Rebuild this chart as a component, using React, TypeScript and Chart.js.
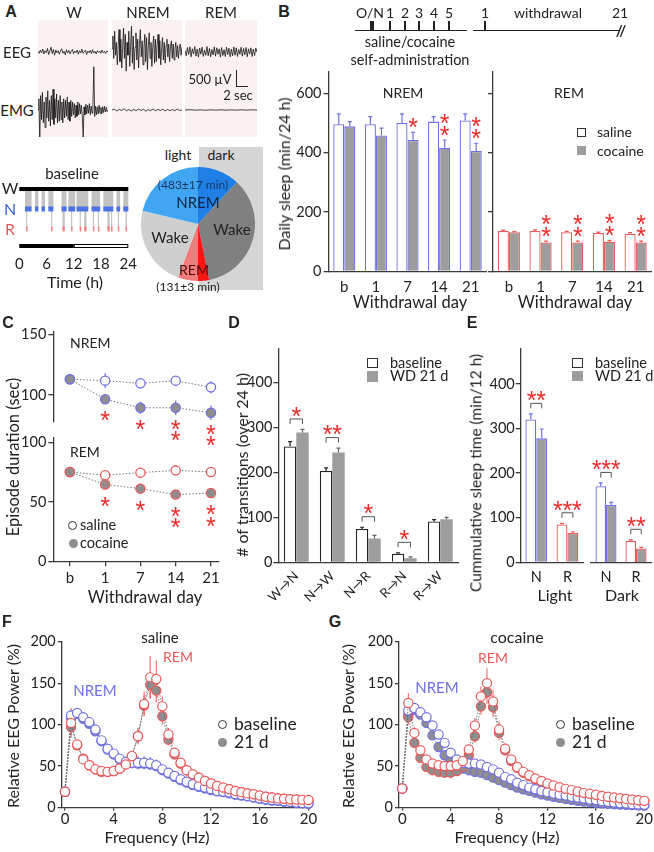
import React, { useEffect, useRef } from 'react';
import { Chart, registerables } from 'chart.js';

Chart.register(...registerables);
Chart.defaults.font.family = 'Lato, "Open Sans", sans-serif';
Chart.defaults.font.size = 14;
Chart.defaults.color = '#222';

// ================= DATA =================
// Panel A – example traces (µV)
const eegW = [20, -40, 60, -30, 90, -60, 40, -20, 110, -80, 30, 150, -50, 80, -100, 60, -20, 40, -70, 30, 100, -40, 20, -90, 70, -30, 50, -60, 20, 80, -50, 30, -20, 60, -70, 40, -30, 90, -40, 10, 60, -80, 30, -20, 50, -50, 70, -30, 20, -60, 40, -10, 30, -40, 60, -20, 20, -50, 30, 0];
const eegNrem = [100, 500, -200, 650, -100, 300, -400, 200, 700, -300, 400, -500, 100, 750, -200, 550, -600, 300, -100, 650, -450, 200, 800, -350, 500, -550, 150, 600, -250, 400, -500, 250, 700, -150, 350, -400, 100, 550, -300, 450, -550, 200, 600, -200, 300, -450, 150, 500, -350, 400, -300, 250, 550, -200, 350, -400, 100, 450, -250, 300, -350, 200, 400, -150, 250, -300, 150, 350, -200, 250, -250, 100, 300, -150, 200, -200, 100, 250, -100, 150];
const eegRem = [50, -120, 140, -80, 160, -150, 100, -60, 170, -130, 90, -160, 120, -70, 150, -140, 60, -100, 170, -120, 110, -150, 80, -90, 160, -130, 130, -70, 100, -160, 140, -110, 70, -140, 150, -80, 120, -150, 90, -120, 160, -100, 130, -140, 80, -70, 150, -130, 110, -90, 140, -150, 100, -60, 130, -140, 90, -110, 120, 0];
const emgW = [0, 350, -900, 450, -300, 550, -400, 250, -550, 400, -250, 600, -350, 300, -500, 450, -300, 650, -450, 350, -250, 500, -400, 300, -350, 450, -300, 250, -400, 350, -250, 300, -200, 400, -300, 250, -350, 300, -200, 250, -150, 200, -250, 150, -200, 250, -150, 200, -120, 150, -200, -850, 100, -150, 180, -120, 150, -100, 200, -150, 120, -100, 180, 1350, -200, 120, -150, 100, -120, 150, -100, 80, -120, 100, -80, 120, -60, 80, -50, 0];
const emgNrem = [0, 25, -30, 20, -15, 35, -25, 15, -30, 20, -20, 30, -15, 25, -35, 15, -20, 30, -25, 20, -15, 25, -30, 20, -20, 15, -25, 30, -15, 0];
const emgRem = [0, 8, -6, 5, -8, 6, -5, 7, -6, 4, -5, 6, -4, 5, 0];

// Hypnogram episodes (h)
const hypNrem: [number, number][] = [[1.25, 2.7], [3.45, 4.2], [4.9, 5.65], [6.4, 7.5], [9.3, 10.4], [10.8, 12.3], [12.6, 15.2], [15.9, 17.8], [18.5, 20.7], [21.4, 22.2], [22.9, 24]];
const hypRem: [number, number][] = [[1.5, 1.75], [7.0, 7.25], [9.5, 10.0], [11.4, 11.65], [13.3, 13.55], [14.3, 14.8], [16.2, 16.45], [17.3, 17.55], [19.4, 19.9], [20.2, 20.45], [21.7, 21.95], [23.4, 23.7]];
const lightDark: [number, number, boolean][] = [[0, 12, true], [12, 24, false]];

// Pie (min per 24 h), clockwise from top
const pieLabels = ['NREM dark', 'Wake dark', 'REM dark', 'REM light', 'Wake light', 'NREM light'];
const pieMinutes = [172, 503, 45, 82, 332, 306];
const pieColors = ['#1f7fe6', '#808080', '#ff1414', '#f27c7c', '#cfcfcf', '#40a6f4'];

// Panel B – daily sleep (min/24 h)
const bLabels = ['b', '1', '7', '14', '21'];
const bNremSal = [496, 496, 500, 505, 509];
const bNremSalErr = [35, 26, 31, 17, 22];
const bNremCoc = [489, 458, 443, 417, 406];
const bNremCocErr = [16, 25, 26, 26, 26];
const bRemSal = [136.5, 136.5, 132, 129.5, 127];
const bRemSalErr = [3, 4, 3, 3, 4];
const bRemCoc = [132, 98, 98, 100, 98];
const bRemCocErr = [2, 4, 4, 4, 4];
const bStarsNrem = [0, 0, 1, 2, 2];
const bStarsRem = [0, 2, 2, 2, 2];

// Panel C – episode duration (sec)
const cLabels = ['b', '1', '7', '14', '21'];
const cNremSal = [113, 111.8, 109.6, 111.8, 106.3];
const cNremSalErr = [4, 6, 3, 3, 5];
const cNremCoc = [113, 96.5, 89.5, 89.5, 85.4];
const cNremCocErr = [4, 4, 5, 6, 6];
const cRemSal = [75.1, 72.4, 74.6, 76.5, 75.1];
const cRemSalErr = [2, 3, 2, 2, 2];
const cRemCoc = [75.1, 64.6, 61.2, 56.2, 57.5];
const cRemCocErr = [2, 3, 3, 3, 3];
const cStarsNrem = [0, 1, 1, 2, 2];
const cStarsRem = [0, 1, 1, 2, 2];

// Panel D – transitions
const dLabels = ['W→N', 'N→W', 'N→R', 'R→N', 'R→W'];
const dBase = [257.5, 203, 74, 19, 91];
const dBaseErr = [11, 7, 4, 2, 4];
const dWD = [288.5, 244, 53, 9, 96];
const dWDErr = [7, 10, 7, 3, 4];
const dSig = ['*', '**', '*', '*', ''];

// Panel E – cumulative sleep (min/12 h)
const eLabels = ['N', 'R'];
const eLightBase = [320.5, 85];
const eLightBaseErr = [12.5, 2.5];
const eLightWD = [278, 66];
const eLightWDErr = [21, 2.5];
const eDarkBase = [170.5, 48];
const eDarkBaseErr = [7.5, 2.5];
const eDarkWD = [128.5, 31];
const eDarkWDErr = [6, 2.5];
const eSigLight = ['**', '***'];
const eSigDark = ['***', '**'];

// Panels F, G – relative EEG power (%)
const freq = [0, 0.5, 1, 1.5, 2, 2.5, 3, 3.5, 4, 4.5, 5, 5.5, 6, 6.5, 7, 7.5, 8, 8.5, 9, 9.5, 10, 10.5, 11, 11.5, 12, 12.5, 13, 13.5, 14, 14.5, 15, 15.5, 16, 16.5, 17, 17.5, 18, 18.5, 19, 19.5, 20];
const fNremBase = [19, 111, 114, 109, 103, 94, 81, 71, 65, 59, 55, 54, 54, 54, 53, 51, 46, 42, 38, 34, 31, 28, 26, 24, 22, 20, 19, 18, 16, 15, 14, 12.5, 11, 10, 9, 8.5, 7.5, 7, 6, 5.5, 5];
const fNremBaseErr = [3, 6, 5, 5, 5, 5, 5, 4, 4, 4, 6, 7, 8, 8, 8, 7, 5, 4, 3, 3, 2, 2, 2, 2, 2, 2, 1, 1, 1, 1, 1, 1, 1, 1, 1, 1, 1, 1, 1, 1, 1];
const fNrem21 = [19, 108, 113, 107, 101, 92, 80, 70, 64, 58, 55, 54, 53, 53, 52, 50, 45, 41, 37, 33, 30, 27, 25, 23, 21, 19.5, 18.5, 17, 15.5, 14.5, 13.5, 12, 10.5, 9.5, 8.5, 8, 7, 6.5, 5.5, 5, 4.5];
const fNrem21Err = [3, 6, 5, 5, 5, 5, 4, 4, 4, 4, 5, 6, 6, 6, 6, 5, 4, 3, 3, 2, 2, 2, 2, 2, 2, 1, 1, 1, 1, 1, 1, 1, 1, 1, 1, 1, 1, 1, 1, 1, 1];
const fRemBase = [19, 102, 76, 58, 51, 46, 44, 43, 44, 47, 52, 62, 86, 125, 157, 155, 122, 88, 66, 54, 45, 40, 36, 32, 29, 26, 24, 22, 20, 18.5, 17, 16, 14.5, 13, 12, 11, 10.5, 10, 9.6, 9.2, 9];
const fRemBaseErr = [3, 18, 6, 4, 3, 3, 3, 3, 3, 3, 4, 6, 10, 15, 26, 22, 12, 8, 5, 4, 3, 3, 2, 2, 2, 2, 2, 2, 2, 1, 1, 1, 1, 1, 1, 1, 1, 1, 1, 1, 1];
const fRem21 = [19, 97, 75, 59, 51, 46, 43, 43, 44, 47, 52, 62, 86, 123, 148, 141, 110, 82, 64, 53, 45, 40, 36, 32, 29, 26, 24, 22, 20, 18.5, 17, 15.5, 14, 13, 12, 11, 10.5, 10, 9.5, 9, 8.5];
const fRem21Err = [3, 10, 5, 4, 3, 3, 3, 3, 3, 3, 4, 5, 8, 12, 16, 14, 10, 7, 5, 4, 3, 3, 2, 2, 2, 2, 2, 2, 1, 1, 1, 1, 1, 1, 1, 1, 1, 1, 1, 1, 1];
const gNremBase = [23, 117, 120, 115, 109, 99, 88, 78, 66, 58, 54, 53, 53, 52, 49, 46, 42, 37, 34, 30, 27, 24, 22, 20, 18.5, 17, 15.5, 14.5, 13, 12, 11, 9.6, 9, 7.6, 7, 6, 5, 4.8, 4, 3.6, 3.2];
const gNremBaseErr = [3, 6, 6, 5, 5, 4, 4, 4, 3, 3, 3, 3, 3, 3, 3, 3, 2, 2, 2, 2, 2, 2, 2, 1, 1, 1, 1, 1, 1, 1, 1, 1, 1, 1, 1, 1, 1, 1, 1, 1, 1];
const gNrem21 = [23, 112, 118, 112, 102, 87, 73, 63, 57, 51, 47, 45, 43, 42, 39, 36, 33, 30, 27, 24, 22, 20, 18, 16, 14.5, 13, 11.6, 10.4, 9.2, 8, 7.2, 6.4, 5.6, 5, 4.5, 4, 3.5, 3.2, 2.9, 2.6, 2.4];
const gNrem21Err = [3, 6, 6, 5, 5, 4, 4, 4, 3, 3, 3, 3, 3, 3, 3, 3, 2, 2, 2, 2, 2, 2, 2, 1, 1, 1, 1, 1, 1, 1, 1, 1, 1, 1, 1, 1, 1, 1, 1, 1, 1];
const gRemBase = [23, 126, 90, 69, 58, 53, 51, 50, 50, 51, 56, 70, 99, 134, 150, 128, 94, 71, 58, 49, 43, 39, 35, 32, 29, 26.5, 24.5, 22.5, 21, 19.3, 17.7, 16.5, 15.3, 14, 12.9, 12, 11.2, 10.4, 9.6, 8.8, 8];
const gRemBaseErr = [3, 12, 7, 5, 4, 3, 3, 3, 3, 3, 4, 6, 9, 12, 18, 14, 10, 7, 5, 4, 3, 3, 2, 2, 2, 2, 2, 2, 1, 1, 1, 1, 1, 1, 1, 1, 1, 1, 1, 1, 1];
const gRem21 = [23, 109, 78, 60, 49, 45, 43, 42, 42, 44, 49, 63, 86, 122, 139, 121, 90, 69, 56, 48, 42, 38, 34, 31, 28, 25.5, 23.5, 21.5, 20, 18.5, 17, 15.8, 14.6, 13.4, 12.4, 11.5, 10.7, 10, 9.2, 8.5, 7.8];
const gRem21Err = [3, 9, 6, 4, 3, 3, 3, 3, 3, 3, 4, 5, 8, 10, 14, 12, 9, 6, 4, 3, 3, 2, 2, 2, 2, 2, 2, 1, 1, 1, 1, 1, 1, 1, 1, 1, 1, 1, 1, 1, 1];

// ================= STYLE =================
const FF = 'Lato, "Open Sans", sans-serif';
const ARIAL = '"Liberation Sans", Arial, sans-serif';
const AXC = '#3a3a3a';
const BLUE = '#7070e6';
const RED = '#ec5858';
const GREY = '#9d9d9d';
const PTGREY = '#8e8e8e';
const STAR = '#ee2b2b';
const PINK = '#fcf1f1';
const STAR_SIZE = 25;
const TICK = 14.5;

// ================= HELPERS =================
function fix(size: number) {
  return (s: any) => {
    if (s.isHorizontal()) s.height = size;
    else s.width = size;
    s.paddingLeft = 0;
    s.paddingRight = 0;
    s.paddingTop = 0;
    s.paddingBottom = 0;
  };
}

function base(pad: any) {
  return {
    responsive: false,
    animation: false,
    events: [] as string[],
    layout: { padding: { left: 0, right: 0, top: 0, bottom: 0, ...pad } },
    plugins: { legend: { display: false }, tooltip: { enabled: false } },
  };
}

function yAxis(min: number, max: number, step: number, width: number, labels = true, tick = 5, pad = 2) {
  return {
    type: 'linear',
    position: 'left',
    min,
    max,
    afterFit: fix(width),
    border: { display: true, color: AXC, width: 1.3 },
    grid: { display: true, drawOnChartArea: false, drawTicks: true, tickLength: tick, color: AXC, lineWidth: 1.3 },
    ticks: { display: labels, stepSize: step, includeBounds: false, padding: pad, color: '#222', font: { size: TICK } },
  };
}

function xCat(height: number, padding: number, rot = 0, size = TICK) {
  return {
    type: 'category',
    position: 'bottom',
    afterFit: fix(height),
    border: { display: true, color: AXC, width: 1.3 },
    grid: { display: false, drawTicks: false },
    ticks: { padding, autoSkip: false, minRotation: rot, maxRotation: rot, color: '#222', font: { size } },
  };
}

function drawStar(ctx: any, x: number, yc: number) {
  ctx.fillText('*', x, yc + STAR_SIZE * 0.55);
}

function drawErr(chart: any, when: string) {
  const ctx = chart.ctx;
  chart.data.datasets.forEach((ds: any, di: number) => {
    if (!ds.err || (ds.errWhen || 'after') !== when) return;
    const meta = chart.getDatasetMeta(di);
    const ys = chart.scales[meta.yAxisID];
    meta.data.forEach((el: any, i: number) => {
      const raw = ds.data[i];
      const val = typeof raw === 'number' ? raw : raw && raw.y;
      const e = ds.err[i];
      if (val == null || !e) return;
      const x = el.x;
      const yTop = ys.getPixelForValue(val + e);
      const yBot = ds.errMode === 'both' ? ys.getPixelForValue(val - e) : ys.getPixelForValue(val);
      const col = Array.isArray(ds.errColor) ? ds.errColor[i] : ds.errColor || '#333';
      ctx.save();
      ctx.strokeStyle = col;
      ctx.lineWidth = ds.errWidth || 1.2;
      ctx.beginPath();
      ctx.moveTo(x, yBot);
      ctx.lineTo(x, yTop);
      if (ds.errCap) {
        ctx.moveTo(x - ds.errCap, yTop);
        ctx.lineTo(x + ds.errCap, yTop);
      }
      ctx.stroke();
      ctx.restore();
    });
  });
}

const errBars = {
  id: 'errBars',
  beforeDatasetsDraw(chart: any) {
    drawErr(chart, 'before');
  },
  afterDatasetsDraw(chart: any) {
    drawErr(chart, 'after');
  },
};

function starPlugin(dsIndex: number, counts: number[], dir: 'up' | 'down', gap: number, step: number, useErr: boolean) {
  return {
    id: 'sigStars',
    afterDatasetsDraw(chart: any) {
      const ctx = chart.ctx;
      const ds = chart.data.datasets[dsIndex];
      const meta = chart.getDatasetMeta(dsIndex);
      const ys = chart.scales[meta.yAxisID];
      ctx.save();
      ctx.font = `${STAR_SIZE}px ${ARIAL}`;
      ctx.fillStyle = STAR;
      ctx.textAlign = 'center';
      ctx.textBaseline = 'alphabetic';
      counts.forEach((n, i) => {
        if (!n) return;
        const raw = ds.data[i];
        const val = typeof raw === 'number' ? raw : raw.y;
        const e = useErr && ds.err ? ds.err[i] : 0;
        const x = meta.data[i].x;
        const b0 = dir === 'up' ? ys.getPixelForValue(val + e) - gap : ys.getPixelForValue(val) + gap;
        for (let k = 0; k < n; k++) drawStar(ctx, x, dir === 'up' ? b0 - k * step : b0 + k * step);
      });
      ctx.restore();
    },
  };
}

function bracketPlugin(sig: string[]) {
  return {
    id: 'brackets',
    afterDatasetsDraw(chart: any) {
      const ctx = chart.ctx;
      const ys = chart.scales.y;
      const d0 = chart.data.datasets[0];
      const d1 = chart.data.datasets[1];
      const m0 = chart.getDatasetMeta(0);
      const m1 = chart.getDatasetMeta(1);
      ctx.save();
      sig.forEach((s, i) => {
        if (!s) return;
        const t0 = ys.getPixelForValue(d0.data[i] + (d0.err ? d0.err[i] : 0));
        const t1 = ys.getPixelForValue(d1.data[i] + (d1.err ? d1.err[i] : 0));
        const yb = Math.min(t0, t1) - 10.5;
        const x0 = m0.data[i].x;
        const x1 = m1.data[i].x;
        ctx.strokeStyle = '#555';
        ctx.lineWidth = 1;
        ctx.beginPath();
        ctx.moveTo(x0, yb + 5);
        ctx.lineTo(x0, yb);
        ctx.lineTo(x1, yb);
        ctx.lineTo(x1, yb + 5);
        ctx.stroke();
        ctx.font = `${STAR_SIZE}px ${ARIAL}`;
        ctx.fillStyle = STAR;
        ctx.textAlign = 'center';
        ctx.textBaseline = 'alphabetic';
        const n = s.length;
        for (let k = 0; k < n; k++) drawStar(ctx, (x0 + x1) / 2 + (k - (n - 1) / 2) * 9.5, yb - 8);
      });
      ctx.restore();
    },
  };
}

const hypnoPlugin = {
  id: 'hypno',
  beforeDatasetsDraw(chart: any) {
    const ctx = chart.ctx;
    const xs = chart.scales.x;
    const ys = chart.scales.y;
    const X = (v: number) => xs.getPixelForValue(v);
    const Y = (v: number) => ys.getPixelForValue(v);
    ctx.save();
    ctx.fillStyle = '#c2c2c2';
    hypNrem.forEach(([s, e]) => ctx.fillRect(X(s), Y(2), X(e) - X(s), Y(1) - Y(2)));
    hypRem.forEach(([s, e]) => ctx.fillRect(X(s), Y(2), X(e) - X(s), Y(0) - Y(2)));
    ctx.fillStyle = '#4a72e6';
    hypNrem.forEach(([s, e]) => ctx.fillRect(X(s), Y(1) - 2.5, X(e) - X(s), 5));
    ctx.fillStyle = '#f28080';
    hypRem.forEach(([s, e]) => ctx.fillRect(X(s), Y(0) - 2.5, Math.max(X(e) - X(s), 1.5), 5));
    ctx.fillStyle = '#000';
    ctx.fillRect(X(xs.min), Y(2) - 2, X(xs.max) - X(xs.min), 4);
    const yb = chart.chartArea.bottom + 11;
    lightDark.forEach(([s, e, dark]) => {
      if (dark) {
        ctx.fillStyle = '#000';
        ctx.fillRect(X(s), yb, X(e) - X(s), 4);
      } else {
        ctx.strokeStyle = '#000';
        ctx.lineWidth = 1;
        ctx.strokeRect(X(s) + 0.5, yb + 0.5, X(e) - X(s) - 1, 3);
      }
    });
    ctx.restore();
  },
};

// ================= CHART CONFIGS =================
function traceCfg(eeg: number[], emg: number[]) {
  const line = { borderColor: '#151515', borderWidth: 0.8, pointRadius: 0, clip: false as any };
  return {
    type: 'line',
    data: {
      datasets: [
        { ...line, data: eeg.map((v, i) => ({ x: i, y: v })), xAxisID: 'xE', yAxisID: 'yE' },
        { ...line, data: emg.map((v, i) => ({ x: i, y: v })), xAxisID: 'xM', yAxisID: 'yM' },
      ],
    },
    options: {
      ...base({}),
      scales: {
        xE: { type: 'linear', axis: 'x', display: false, min: 0, max: eeg.length - 1 },
        xM: { type: 'linear', axis: 'x', display: false, min: 0, max: emg.length - 1 },
        yE: { type: 'linear', axis: 'y', display: false, min: -2656, max: 1000 },
        yM: { type: 'linear', axis: 'y', display: false, min: -844, max: 2812 },
      },
    },
  };
}

function hypnoCfg() {
  return {
    type: 'scatter',
    data: { datasets: [] as any[] },
    options: {
      ...base({ left: 19.3, right: 11.7, top: 10 }),
      scales: {
        x: {
          type: 'linear', min: 0, max: 24, afterFit: fix(57),
          border: { display: false }, grid: { display: false, drawTicks: false },
          ticks: { stepSize: 6, padding: 22.6, color: '#222', font: { size: 15 } },
        },
        y: { type: 'linear', display: false, min: -0.2, max: 2.2 },
      },
    },
    plugins: [hypnoPlugin],
  };
}

function pieCfg() {
  return {
    type: 'pie',
    data: { labels: pieLabels, datasets: [{ data: pieMinutes, backgroundColor: pieColors, borderWidth: 0, hoverOffset: 0 }] },
    options: { ...base({}) },
  };
}

function barDs(data: number[], err: number[], fill: string, border: any, bw = 1.3, errColor: any = border) {
  return {
    data, err, backgroundColor: fill, borderColor: border, borderWidth: bw,
    errColor, errCap: 2, barPercentage: 1, categoryPercentage: 0.7,
  };
}

function bCfg(sal: number[], salErr: number[], coc: number[], cocErr: number[], col: string, stars: number[], nrem: boolean) {
  return {
    type: 'bar',
    data: { labels: bLabels, datasets: [barDs(sal, salErr, '#fff', col), barDs(coc, cocErr, GREY, col)] },
    options: {
      ...base(nrem ? { top: 12, right: 3.5 } : { top: 12, right: 2.5 }),
      scales: {
        x: xCat(40.5, 7.1, 0, 15),
        y: yAxis(0, 672, 200, nrem ? 58.5 : 13, nrem),
      },
    },
    plugins: [errBars, starPlugin(1, stars, 'up', 10, 12, true)],
  };
}

function cPt(vals: number[], err: number[], col: string, fill: string) {
  return {
    data: vals.map((v, i) => ({ x: i, y: v })),
    borderColor: '#777', borderWidth: 1, borderDash: [1.5, 1.8],
    pointRadius: 4.6, pointBorderWidth: 1.3, pointBackgroundColor: fill, pointBorderColor: col,
    err, errMode: 'both', errColor: col, errWhen: 'before', errWidth: 1.2, clip: false as any,
  };
}

function cCfg(upper: boolean) {
  const sal = upper ? cNremSal : cRemSal;
  const salErr = upper ? cNremSalErr : cRemSalErr;
  const coc = upper ? cNremCoc : cRemCoc;
  const cocErr = upper ? cNremCocErr : cRemCocErr;
  const col = upper ? BLUE : RED;
  const xAxis = upper
    ? { type: 'linear', display: false, min: -0.47, max: 4.23 }
    : {
        type: 'linear', min: -0.47, max: 4.23, afterFit: fix(43.3),
        border: { display: true, color: AXC, width: 1.3 },
        grid: { display: true, drawOnChartArea: false, drawTicks: true, tickLength: 4.5, color: AXC, lineWidth: 1.3 },
        ticks: { stepSize: 1, includeBounds: false, padding: 3.4, color: '#222', font: { size: 15 }, callback: (v: any) => cLabels[v] ?? '' },
      };
  return {
    type: 'line',
    data: { datasets: [cPt(coc, cocErr, col, PTGREY), cPt(sal, salErr, col, '#fff')] },
    options: {
      ...base(upper ? { top: 11.7, right: 5, bottom: 28.3 } : { top: 13, right: 5 }),
      scales: {
        x: xAxis,
        y: upper ? yAxis(78, 152.1, 50, 53.3) : yAxis(0, 103.6, 50, 53.3),
      },
    },
    plugins: [errBars, starPlugin(0, upper ? cStarsNrem : cStarsRem, 'down', 16.5, 11.5, false)],
  };
}

function dCfg() {
  return {
    type: 'bar',
    data: {
      labels: dLabels,
      datasets: [
        { ...barDs(dBase, dBaseErr, '#fff', '#222', 1.3, '#222'), categoryPercentage: 0.69 },
        { ...barDs(dWD, dWDErr, GREY, GREY, 0, '#666'), categoryPercentage: 0.69 },
      ],
    },
    options: {
      ...base({ top: 13.3, right: 1.7 }),
      scales: { x: xCat(42.7, 6, 45, 13), y: yAxis(0, 476, 100, 48.3, true, 5, 1) },
    },
    plugins: [errBars, bracketPlugin(dSig)],
  };
}

function eCfg(light: boolean) {
  const cols = [BLUE, RED];
  return {
    type: 'bar',
    data: {
      labels: eLabels,
      datasets: [
        barDs(light ? eLightBase : eDarkBase, light ? eLightBaseErr : eDarkBaseErr, '#fff', cols),
        barDs(light ? eLightWD : eDarkWD, light ? eLightWDErr : eDarkWDErr, GREY, cols),
      ],
    },
    options: {
      ...base(light ? { top: 13.3, right: 2 } : { top: 13.3, left: 6, right: 3 }),
      scales: {
        x: xCat(42.7, 6),
        y: light ? yAxis(0, 480, 100, 40.7, true, 5, 1) : { type: 'linear', display: false, min: 0, max: 480 },
      },
    },
    plugins: [errBars, bracketPlugin(light ? eSigLight : eSigDark)],
  };
}

function psd(vals: number[], err: number[], col: string, fill: string) {
  return {
    data: freq.map((x, i) => ({ x, y: vals[i] })),
    borderColor: '#6a6a6a', borderWidth: 0.9, borderDash: [1.5, 1.5],
    pointRadius: 4.6, pointBorderWidth: 1.2, pointBackgroundColor: fill, pointBorderColor: col,
    err, errMode: 'both', errColor: col, errWhen: 'before', errWidth: 1, clip: false as any,
  };
}

function powCfg(sal: boolean, yW: number, xMax: number) {
  return {
    type: 'line',
    data: {
      datasets: sal
        ? [psd(fRemBase, fRemBaseErr, RED, '#fff'), psd(fNremBase, fNremBaseErr, BLUE, '#fff'), psd(fRem21, fRem21Err, RED, PTGREY), psd(fNrem21, fNrem21Err, BLUE, PTGREY)]
        : [psd(gRemBase, gRemBaseErr, RED, '#fff'), psd(gNremBase, gNremBaseErr, BLUE, '#fff'), psd(gRem21, gRem21Err, RED, PTGREY), psd(gNrem21, gNrem21Err, BLUE, PTGREY)],
    },
    options: {
      ...base({ top: 11.7, right: 8 }),
      scales: {
        x: {
          type: 'linear', min: -0.27, max: xMax, afterFit: fix(44.5),
          border: { display: true, color: AXC, width: 1.3 },
          grid: { display: true, drawOnChartArea: false, drawTicks: true, tickLength: 3, color: AXC, lineWidth: 1.3 },
          ticks: { stepSize: 4, includeBounds: false, padding: 0, color: '#222', font: { size: 15 } },
        },
        y: yAxis(0, 200, 50, yW, true, 4, 2),
      },
    },
    plugins: [errBars],
  };
}

// ================= COMPONENTS =================
function ChartBox({ x, y, w, h, cfg }: { x: number; y: number; w: number; h: number; cfg: () => any }) {
  const ref = useRef<HTMLCanvasElement | null>(null);
  useEffect(() => {
    const c = new Chart(ref.current as HTMLCanvasElement, cfg());
    return () => c.destroy();
  }, []);
  return <canvas ref={ref} width={w} height={h} style={{ position: 'absolute', left: x, top: y, width: w, height: h }} />;
}

function Txt({ x, y, s = 15, c = '#222', b = false, r = 0, al = 'c', ff, children }: any) {
  const tx = al === 'c' ? '-50%' : al === 'l' ? '0%' : '-100%';
  return (
    <div
      style={{
        position: 'absolute', left: x, top: y, transform: `translate(${tx}, -50%) rotate(${r}deg)`,
        fontSize: s, color: c, fontWeight: b ? 700 : 400, whiteSpace: 'nowrap', lineHeight: 1,
        fontFamily: ff || FF, pointerEvents: 'none',
      }}
    >
      {children}
    </div>
  );
}

function Box({ x, y, w, h, bg = 'transparent', bd, br = 0 }: any) {
  return <div style={{ position: 'absolute', left: x, top: y, width: w, height: h, background: bg, border: bd, borderRadius: br, boxSizing: 'border-box' }} />;
}

export default function App() {
  return (
    <div style={{ position: 'absolute', left: 0, top: 0, width: 654, height: 852, background: '#fff', overflow: 'hidden', fontFamily: FF, color: '#222' }}>
      {/* ---------- backgrounds ---------- */}
      <Box x={38} y={20} w={70} h={117} bg={PINK} />
      <Box x={112} y={20} w={70} h={117} bg={PINK} />
      <Box x={185} y={20} w={72} h={117} bg={PINK} />
      <Box x={199} y={147} w={64} h={143} bg="#d5d5d5" />

      {/* ---------- charts ---------- */}
      <ChartBox x={38} y={20} w={70} h={117} cfg={() => traceCfg(eegW, emgW)} />
      <ChartBox x={112} y={20} w={70} h={117} cfg={() => traceCfg(eegNrem, emgNrem)} />
      <ChartBox x={185} y={20} w={72} h={117} cfg={() => traceCfg(eegRem, emgRem)} />
      <ChartBox x={0} y={175} w={140} h={115} cfg={hypnoCfg} />
      <ChartBox x={141} y={167} w={114} h={114} cfg={pieCfg} />
      <ChartBox x={270} y={60} w={220} h={252} cfg={() => bCfg(bNremSal, bNremSalErr, bNremCoc, bNremCocErr, BLUE, bStarsNrem, true)} />
      <ChartBox x={480} y={60} w={174} h={252} cfg={() => bCfg(bRemSal, bRemSalErr, bRemCoc, bRemCocErr, RED, bStarsRem, false)} />
      <ChartBox x={0} y={320} w={225} h={130} cfg={() => cCfg(true)} />
      <ChartBox x={0} y={425} w={225} h={180} cfg={() => cCfg(false)} />
      <ChartBox x={230} y={335} w={230} h={270} cfg={dCfg} />
      <ChartBox x={480} y={335} w={105} h={270} cfg={() => eCfg(true)} />
      <ChartBox x={585} y={335} w={69} h={270} cfg={() => eCfg(false)} />
      <ChartBox x={0} y={630} w={318} h={222} cfg={() => powCfg(true, 61.7, 20.13)} />
      <ChartBox x={330} y={630} w={324} h={222} cfg={() => powCfg(false, 69, 20.14)} />

      {/* ---------- panel letters ---------- */}
      <Txt x={11} y={12} s={16} b ff={ARIAL}>A</Txt>
      <Txt x={284} y={12} s={16} b ff={ARIAL}>B</Txt>
      <Txt x={8} y={323} s={16} b ff={ARIAL}>C</Txt>
      <Txt x={234} y={323} s={16} b ff={ARIAL}>D</Txt>
      <Txt x={472} y={323} s={16} b ff={ARIAL}>E</Txt>
      <Txt x={7} y={622} s={16} b ff={ARIAL}>F</Txt>
      <Txt x={335} y={622} s={16} b ff={ARIAL}>G</Txt>

      {/* ---------- panel A ---------- */}
      <Txt x={74} y={12} s={15}>W</Txt>
      <Txt x={148} y={12} s={15}>NREM</Txt>
      <Txt x={221} y={12} s={15}>REM</Txt>
      <Txt x={17} y={52} s={15}>EEG</Txt>
      <Txt x={17} y={110} s={15}>EMG</Txt>
      <Txt x={210} y={79} s={13}>500 µV</Txt>
      <Txt x={238} y={95} s={13}>2 sec</Txt>
      <Box x={235.5} y={70} w={1.2} h={16} bg="#222" />
      <Box x={235.5} y={85.5} w={12.5} h={1.2} bg="#222" />
      <Txt x={72} y={173} s={15}>baseline</Txt>
      <Txt x={10} y={188} s={16}>W</Txt>
      <Txt x={10} y={209} s={16} c="#3b63e0">N</Txt>
      <Txt x={10} y={229} s={16} c="#e85a5a">R</Txt>
      <Txt x={75} y={282} s={16}>Time (h)</Txt>
      <Txt x={178} y={155} s={14}>light</Txt>
      <Txt x={221} y={155} s={14}>dark</Txt>
      <Txt x={193} y={185} s={12} c="#17365d">(483±17 min)</Txt>
      <Txt x={198} y={202} s={15} c="#10243f">NREM</Txt>
      <Txt x={170} y={237} s={15}>Wake</Txt>
      <Txt x={232} y={229} s={15}>Wake</Txt>
      <Txt x={194} y={270} s={14} c="#4a0a0a">REM</Txt>
      <Txt x={188} y={287} s={12}>(131±3 min)</Txt>

      {/* ---------- panel B ---------- */}
      <Box x={355} y={29.5} w={112} h={1.3} bg="#222" />
      <Box x={473} y={29.5} w={147} h={1.3} bg="#222" />
      <Txt x={621} y={30} s={15} b>//</Txt>
      <Box x={369.5} y={21} w={4} h={9} bg="#222" />
      <Box x={389.4} y={21} w={1.3} h={9} bg="#222" />
      <Box x={404.4} y={21} w={1.3} h={9} bg="#222" />
      <Box x={418.4} y={21} w={1.3} h={9} bg="#222" />
      <Box x={433.4} y={21} w={1.3} h={9} bg="#222" />
      <Box x={448.4} y={21} w={1.3} h={9} bg="#222" />
      <Box x={484.4} y={21} w={1.3} h={9} bg="#222" />
      <Txt x={370} y={13} s={14}>O/N</Txt>
      <Txt x={390} y={13} s={14}>1</Txt>
      <Txt x={405} y={13} s={14}>2</Txt>
      <Txt x={419} y={13} s={14}>3</Txt>
      <Txt x={434} y={13} s={14}>4</Txt>
      <Txt x={449} y={13} s={14}>5</Txt>
      <Txt x={485} y={13} s={14}>1</Txt>
      <Txt x={548} y={13} s={14}>withdrawal</Txt>
      <Txt x={620} y={13} s={14}>21</Txt>
      <Txt x={410} y={42} s={14.5}>saline/cocaine</Txt>
      <Txt x={410} y={60} s={14.5}>self-administration</Txt>
      <Txt x={403} y={93} s={14}>NREM</Txt>
      <Txt x={569} y={93} s={14}>REM</Txt>
      <Box x={576.7} y={127.7} w={9.5} h={9} bg="#fff" bd="1px solid #333" />
      <Box x={576.7} y={146} w={9.5} h={9} bg={GREY} />
      <Txt x={597} y={132} s={14} al="l">saline</Txt>
      <Txt x={597} y={150.5} s={14} al="l">cocaine</Txt>
      <Txt x={283.5} y={174} s={16} r={-90}>Daily sleep (min/24 h)</Txt>
      <Txt x={410} y={302} s={16.5}>Withdrawal day</Txt>
      <Txt x={575} y={302} s={16.5}>Withdrawal day</Txt>

      {/* ---------- panel C ---------- */}
      <Txt x={70} y={343} s={14} al="l">NREM</Txt>
      <Txt x={70} y={452} s={14} al="l">REM</Txt>
      <Box x={68} y={520.5} w={9} h={9} bg="#fff" bd="1.2px solid #333" br={5} />
      <Box x={68.5} y={538.8} w={9} h={9} bg={PTGREY} br={5} />
      <Txt x={80} y={525} s={14.5} al="l">saline</Txt>
      <Txt x={80} y={543.3} s={14.5} al="l">cocaine</Txt>
      <Txt x={12.5} y={457} s={16.5} r={-90}>Episode duration (sec)</Txt>
      <Txt x={145} y={597} s={16.5}>Withdrawal day</Txt>

      {/* ---------- panel D ---------- */}
      <Box x={366.7} y={358.3} w={11.6} h={10} bg="#fff" bd="1px solid #333" />
      <Box x={366.7} y={371} w={11.6} h={10.7} bg={GREY} />
      <Txt x={390} y={363} s={14.5} al="l">baseline</Txt>
      <Txt x={390} y={376} s={14.5} al="l">WD 21 d</Txt>
      <Txt x={242} y={465} s={16} r={-90}># of transitions (over 24 h)</Txt>

      {/* ---------- panel E ---------- */}
      <Box x={571.7} y={358.3} w={11.6} h={9.4} bg="#fff" bd="1px solid #333" />
      <Box x={571.7} y={371} w={11.6} h={10} bg={GREY} />
      <Txt x={595} y={363} s={14.5} al="l">baseline</Txt>
      <Txt x={595} y={376} s={14.5} al="l">WD 21 d</Txt>
      <Txt x={476} y={473} s={15.5} r={-90}>Cummulative sleep time (min/12 h)</Txt>
      <Txt x={555} y={595} s={16}>Light</Txt>
      <Txt x={622} y={595} s={16}>Dark</Txt>

      {/* ---------- panel F ---------- */}
      <Txt x={160} y={637} s={15}>saline</Txt>
      <Txt x={178} y={657} s={14} c={RED}>REM</Txt>
      <Txt x={95} y={690} s={15} c={BLUE}>NREM</Txt>
      <Box x={217.5} y={719.5} w={9} h={9} bg="#fff" bd="1.2px solid #333" br={5} />
      <Box x={217.5} y={737.5} w={9} h={9} bg={PTGREY} br={5} />
      <Txt x={234} y={724} s={17.5} al="l">baseline</Txt>
      <Txt x={234} y={742} s={17.5} al="l">21 d</Txt>
      <Txt x={12.5} y={726} s={16} r={-90}>Relative EEG Power (%)</Txt>
      <Txt x={157} y={837} s={16}>Frequency (Hz)</Txt>

      {/* ---------- panel G ---------- */}
      <Txt x={517} y={637} s={16}>cocaine</Txt>
      <Txt x={493} y={658} s={14} c={RED}>REM</Txt>
      <Txt x={437} y={687} s={15} c={BLUE}>NREM</Txt>
      <Box x={555.5} y={719.5} w={9} h={9} bg="#fff" bd="1.2px solid #333" br={5} />
      <Box x={555.5} y={737.5} w={9} h={9} bg={PTGREY} br={5} />
      <Txt x={572} y={724} s={17.5} al="l">baseline</Txt>
      <Txt x={572} y={742} s={17.5} al="l">21 d</Txt>
      <Txt x={347.5} y={726} s={16} r={-90}>Relative EEG Power (%)</Txt>
      <Txt x={507} y={837} s={16}>Frequency (Hz)</Txt>
    </div>
  );
}
